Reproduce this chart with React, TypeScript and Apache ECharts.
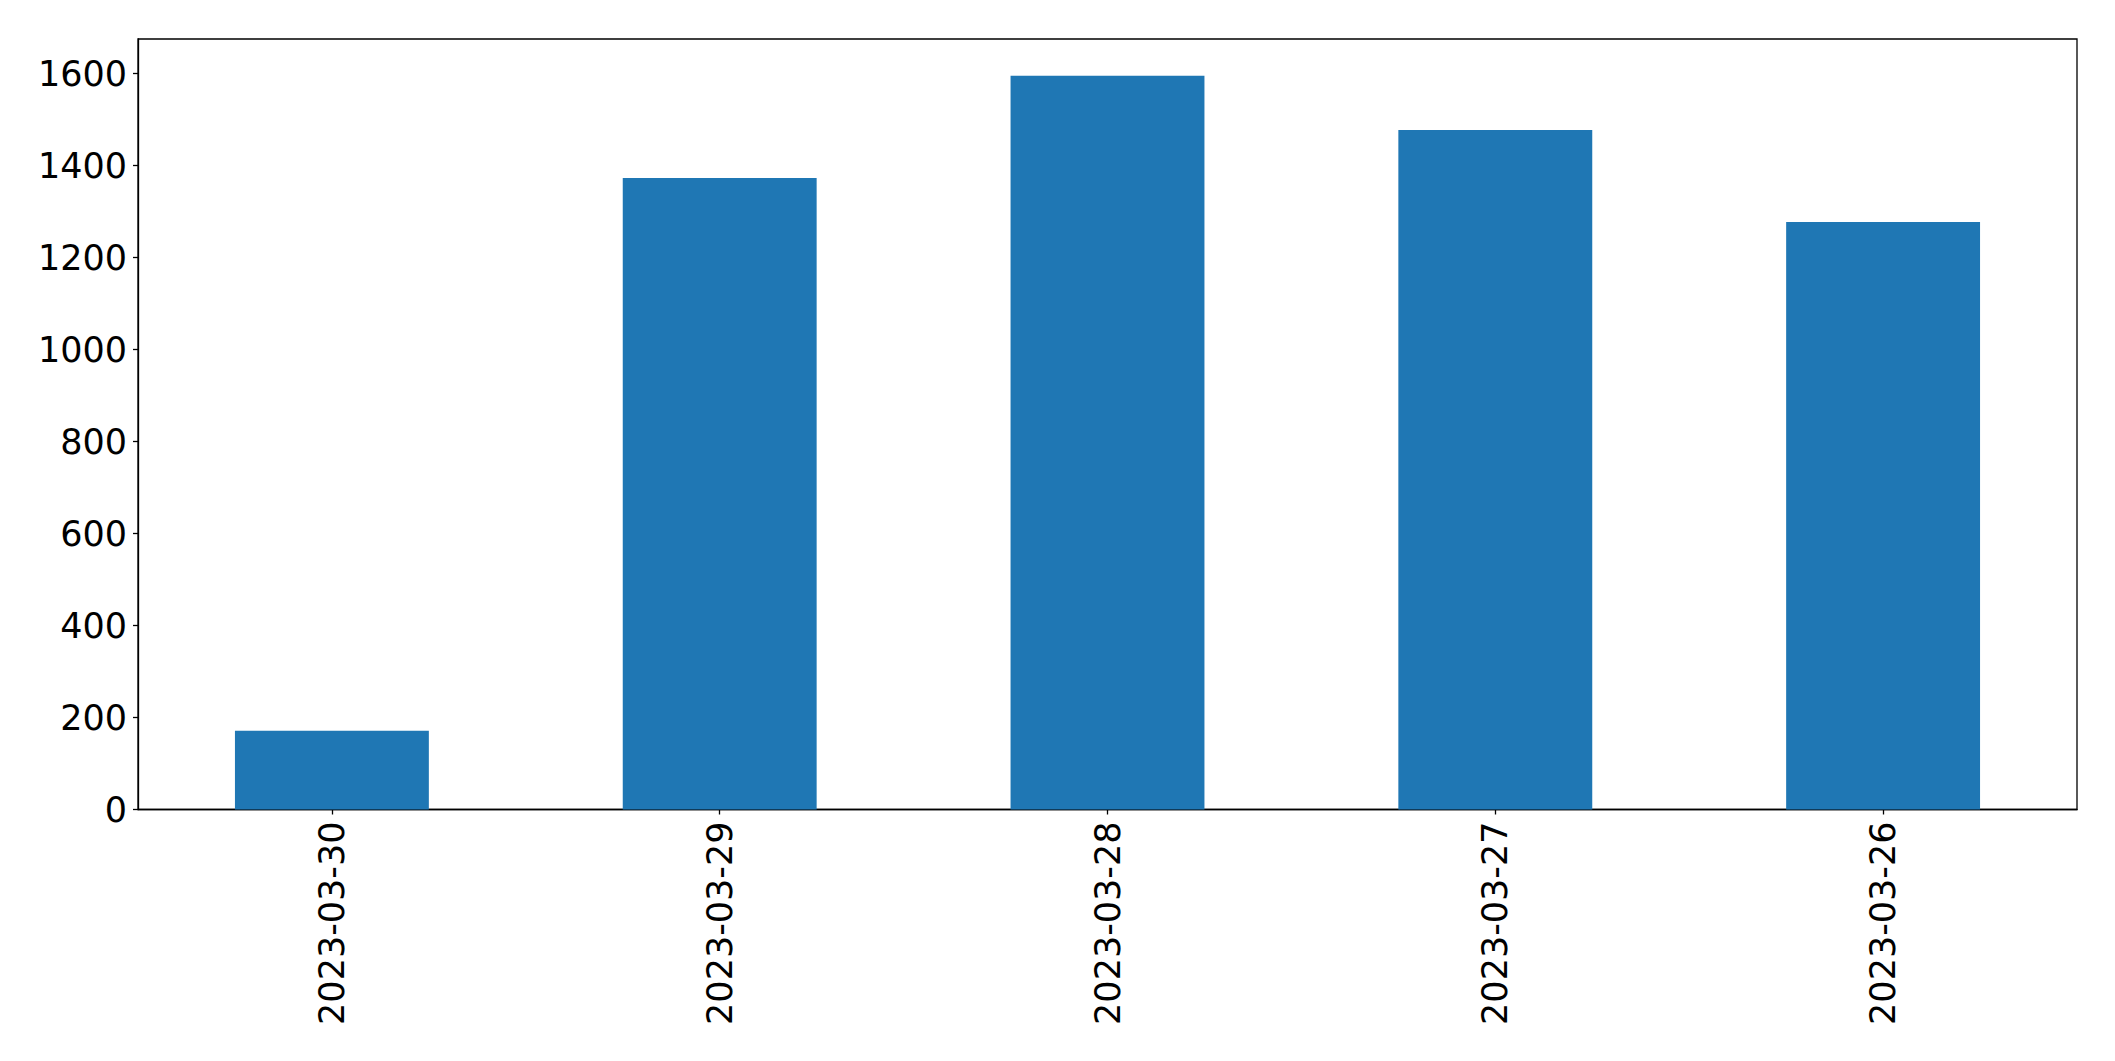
import React, { useEffect, useRef } from "react";
import * as echarts from "echarts";

const categories = ["2023-03-30", "2023-03-29", "2023-03-28", "2023-03-27", "2023-03-26"];
const values = [171, 1373, 1595, 1477, 1277];
const yTicks = [0, 200, 400, 600, 800, 1000, 1200, 1400, 1600];
const yMax = 1675;

export default function App() {
  const ref = useRef<HTMLDivElement>(null);
  useEffect(() => {
    if (!ref.current) return;
    const chart = echarts.init(ref.current, null, { renderer: "svg" });
    chart.setOption({
      animation: false,
      backgroundColor: "#ffffff",
      textStyle: { fontFamily: "DejaVu Sans" },
      grid: {
        left: 138,
        right: 38,
        top: 39,
        bottom: 251.5,
        show: true,
        borderColor: "#000000",
        borderWidth: 1.3,
        backgroundColor: "transparent",
      },
      xAxis: {
        type: "category",
        data: categories,
        boundaryGap: true,
        axisLine: { show: true, lineStyle: { color: "#000000", width: 1.3 } },
        axisTick: { show: true, alignWithLabel: true, length: 5, lineStyle: { color: "#000000", width: 1.3 } },
        axisLabel: {
          rotate: 90,
          fontSize: 35,
          color: "#000000",
          margin: 12,
          fontFamily: "DejaVu Sans",
        },
        splitLine: { show: false },
      },
      yAxis: {
        type: "value",
        min: 0,
        max: yMax,
        interval: 200,
        axisLine: { show: true, lineStyle: { color: "#000000", width: 1.3 } },
        axisTick: {
          show: true,
          length: 5,
          lineStyle: { color: "#000000", width: 1.3 },
          customValues: yTicks,
        },
        axisLabel: {
          fontSize: 35,
          color: "#000000",
          margin: 11,
          fontFamily: "DejaVu Sans",
          customValues: yTicks,
          formatter: (v: number) => String(v),
        },
        splitLine: { show: false },
      },
      series: [
        {
          type: "bar",
          data: values,
          barWidth: "50%",
          itemStyle: { color: "#1f77b4" },
        },
      ],
    });
    return () => chart.dispose();
  }, []);
  return (
    <div
      ref={ref}
      style={{ position: "fixed", left: 0, top: 0, width: 2115, height: 1061, background: "#fff" }}
    />
  );
}
